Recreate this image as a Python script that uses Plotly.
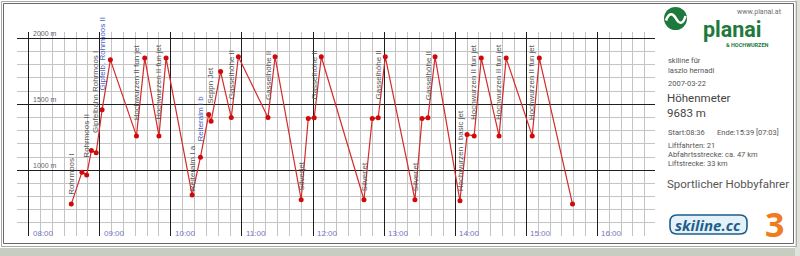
import plotly.graph_objects as go

# ---------------- data ----------------
times = ["08:36", "08:45", "08:49", "08:53", "08:57", "09:02", "09:09", "09:31", "09:38",
         "09:50", "09:56", "10:18", "10:25", "10:32", "10:34", "10:42", "10:51", "10:57",
         "11:22", "11:28", "11:50", "11:56", "12:01", "12:07", "12:43", "12:50", "12:55",
         "13:01", "13:26", "13:32", "13:37", "13:43", "14:04", "14:10", "14:16", "14:22",
         "14:37", "14:43", "15:05", "15:11", "15:39"]
altitudes = [743, 985, 964, 1150, 1132, 1458, 1837, 1260, 1850,
             1260, 1850, 811, 1099, 1422, 1371, 1748, 1399, 1860,
             1399, 1860, 776, 1392, 1397, 1860, 776, 1392, 1397,
             1860, 776, 1392, 1397, 1860, 768, 1270, 1260, 1850,
             1260, 1850, 1260, 1850, 743]

lift_names = ["Rohrmoos I", "Rohrmoos II", "Gipfelbahn Rohrmoos I", "Gipfelb. Rohrmoos II",
              "Hochwurzen II fun jet", "Hochwurzen II fun jet", "Reiteralm I a", "Reiteralm I b",
              "Seppn Jet", "Gasselhöhe II", "Gasselhöhe II", "Silverjet", "Gasselhöhe II",
              "Silverjet", "Gasselhöhe II", "Silverjet", "Gasselhöhe II", "Hochwurzen I basic jet",
              "Hochwurzen II fun jet", "Hochwurzen II fun jet", "Hochwurzen II fun jet"]
lift_starts = ["08:36", "08:49", "08:57", "09:02", "09:31", "09:50", "10:18", "10:25",
               "10:34", "10:51", "11:22", "11:50", "12:01", "12:43", "12:55", "13:26",
               "13:37", "14:04", "14:16", "14:37", "15:05"]

hour_labels = ["08:00", "09:00", "10:00", "11:00", "12:00", "13:00", "14:00", "15:00", "16:00"]
alt_label_values = [1000, 1500, 2000]
alt_labels = ["1000 m", "1500 m", "2000 m"]

# ---------------- styles / layout helpers ----------------
W, H = 800, 256
label_gap = [8, 16, 19, 18, 15, 15, 3, 15, 16, 17, 17, 8, 17, 8, 17, 8, 17, 9, 15, 15, 15]
label_color = ["#555555"] * len(lift_names)
label_color[3] = "#4a5ec0"
label_color[7] = "#4a5ec0"


def tmin(s):
    h, m = s.split(":")
    return int(h) * 60 + int(m)


def px(x):
    return x / W


def py(y):
    return 1 - y / H


x = [tmin(t) for t in times]
alt_by_time = dict(zip(times, altitudes))

fig = go.Figure()
fig.add_trace(go.Scatter(
    x=x, y=altitudes, mode="lines+markers",
    line=dict(color="#d42a2a", width=1.2),
    marker=dict(color="#d00a0a", size=5),
    hoverinfo="skip", showlegend=False,
))

ann = []
small = "Liberation Sans, Arial, sans-serif"
# lift labels
for name, st, gap, col in zip(lift_names, lift_starts, label_gap, label_color):
    ann.append(dict(x=tmin(st), y=alt_by_time[st], xref="x", yref="y", text=name,
                    textangle=-90, showarrow=False, xanchor="center", yanchor="bottom",
                    yshift=gap, borderpad=0, font=dict(family=small, size=8, color=col)))
# altitude labels
for v, t in zip(alt_label_values, alt_labels):
    ann.append(dict(x=px(32), y=v, xref="paper", yref="y", text=t, showarrow=False,
                    xanchor="left", yanchor="bottom", borderpad=0,
                    font=dict(family=small, size=7, color="#666666")))
# hour labels
for hl in hour_labels:
    ann.append(dict(x=tmin(hl), y=py(233), xref="x", yref="paper", text=hl, showarrow=False,
                    xanchor="left", yanchor="middle", xshift=3, borderpad=0,
                    font=dict(family=small, size=8, color="#7878c4")))

panel_font = "Roboto, Liberation Sans, Arial, sans-serif"


def ptext(x0, y0, text, size, color="#555555", anchor="left", family=panel_font):
    ann.append(dict(x=px(x0), y=py(y0), xref="paper", yref="paper", text=text,
                    showarrow=False, xanchor=anchor, yanchor="middle", borderpad=0,
                    align=anchor if anchor != "center" else "center",
                    font=dict(family=family, size=size, color=color)))


ptext(783, 11.5, "www.planai.at", 7, "#707070", anchor="right")
ptext(732, 29, "<b>planai</b>", 21.5, "#1d7a3c", anchor="center")
ptext(747, 45, "<b>&amp; HOCHWURZEN</b>", 5.5, "#1d7a3c", anchor="center")
ptext(667, 60, "skiline für", 7.5)
ptext(667, 70, "laszlo hernadi", 7.5)
ptext(667, 83, "2007-03-22", 7.5)
ptext(666, 105.5, "Höhenmeter<br>9683 m", 11.5, "#444444")
ptext(667, 132, "Start:08:36", 7.5)
ptext(716, 132, "Ende:15:39 [07:03]", 7.5)
ptext(667, 145, "Liftfahrten: 21", 7.5)
ptext(667, 154, "Abfahrtsstrecke: ca. 47 km", 7.5)
ptext(667, 163, "Liftstrecke: 33 km", 7.5)
ptext(666, 184, "Sportlicher Hobbyfahrer", 11.5, "#555555")
ptext(708, 224.5, "<b><i>skiline.cc</i></b>", 15, "#1f5d8a", anchor="center",
      family="Open Sans, Roboto, Arial, sans-serif")
ptext(774, 224, "<b>3</b>", 34, "#f07c1e", anchor="center",
      family="Open Sans, Roboto, Arial, sans-serif")

shapes = []


def rect(x0, y0, x1, y1, line=None, fill=None, lw=1):
    shapes.append(dict(type="rect", xref="paper", yref="paper",
                       x0=px(x0), x1=px(x1), y0=py(y1), y1=py(y0),
                       line=dict(color=line or "rgba(0,0,0,0)", width=lw if line else 0),
                       fillcolor=fill or "rgba(0,0,0,0)", layer="below"))


# frame & shadow
rect(0, 248, 800, 256, fill="#c7cdc1")
rect(795, 0, 800, 256, fill="#dfe3da")
rect(1.5, 1.5, 796.5, 246.5, line="#a8a8a8")
rect(3.5, 3.5, 793.5, 243.5, line="#6a6a6a")

# planai logo circle with wave
cx, cy, r = 675.5, 18.5, 11.5
shapes.append(dict(type="circle", xref="paper", yref="paper",
                   x0=px(cx - r), x1=px(cx + r), y0=py(cy + r), y1=py(cy - r),
                   fillcolor="#1d7a3c", line=dict(width=0)))


def ppath(pts):
    s = ""
    for cmd, pairs in pts:
        s += cmd + " " + " ".join(f"{px(a):.5f},{py(b):.5f}" for a, b in pairs) + " "
    return s.strip()


shapes.append(dict(type="path", xref="paper", yref="paper",
                   path=ppath([("M", [(666, 20.5)]),
                               ("C", [(669, 12), (673, 13), (676, 18.5)]),
                               ("C", [(679, 24), (683, 25), (685.5, 16)])]),
                   line=dict(color="white", width=2.6)))

# skiline.cc rounded box
x0, y0, x1, y1, rr = 670, 215, 747, 234, 7
shapes.append(dict(type="path", xref="paper", yref="paper",
                   path=ppath([("M", [(x0 + rr, y0)]), ("L", [(x1 - rr, y0)]),
                               ("Q", [(x1, y0), (x1, y0 + rr)]), ("L", [(x1, y1 - rr)]),
                               ("Q", [(x1, y1), (x1 - rr, y1)]), ("L", [(x0 + rr, y1)]),
                               ("Q", [(x0, y1), (x0, y1 - rr)]), ("L", [(x0, y0 + rr)]),
                               ("Q", [(x0, y0), (x0 + rr, y0)]), ("Z", [])]),
                   fillcolor="#e3f1f9", line=dict(color="#1f5d8a", width=1.6)))

fig.update_layout(
    width=W, height=H, margin=dict(l=0, r=0, t=0, b=0, pad=0),
    paper_bgcolor="white", plot_bgcolor="white",
    annotations=ann, shapes=shapes, showlegend=False,
    xaxis=dict(domain=[px(17), px(655)], range=[470.2, 1008.6],
               tickmode="array", tickvals=[tmin(h) for h in hour_labels],
               showticklabels=False, ticks="", showgrid=True, gridcolor="#1e1e1e",
               gridwidth=1, zeroline=False, showline=False, fixedrange=True,
               minor=dict(tickmode="linear", tick0=480, dtick=10, showgrid=True,
                          gridcolor="#c4c4c4", gridwidth=1, ticks="")),
    yaxis=dict(domain=[py(236), py(32)], range=[501, 2048],
               tickmode="array", tickvals=alt_label_values,
               showticklabels=False, ticks="", showgrid=True, gridcolor="#1e1e1e",
               gridwidth=1, zeroline=False, showline=False, fixedrange=True,
               minor=dict(tickmode="linear", tick0=0, dtick=100, showgrid=True,
                          gridcolor="#c4c4c4", gridwidth=1, ticks="")),
)

fig.write_html("out.html", config=dict(displayModeBar=False))
